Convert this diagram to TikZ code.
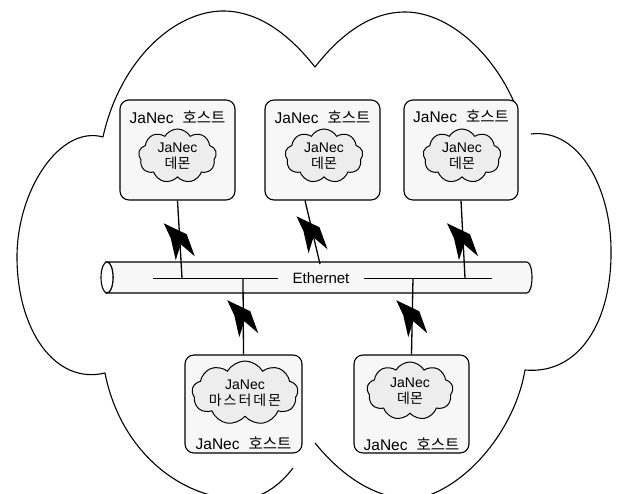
\documentclass[tikz,border=0pt]{standalone}
\usepackage{fontspec}
\setmainfont{Liberation Sans}
\newfontfamily\kr{Noto Sans CJK KR}
\usetikzlibrary{shapes.symbols}

\begin{document}
\begin{tikzpicture}[
  x=1pt, y=-1pt,
  host/.style={draw, line width=1.1pt, rounded corners=9pt, fill=gray!6,
               minimum width=115pt, minimum height=100pt, inner sep=0pt},
  daemon/.style={cloud, cloud puffs=9, cloud puff arc=120,
                 cloud ignores aspect, draw, line width=1pt, fill=gray!14,
                 align=center, inner sep=0pt, minimum width=#1,
                 minimum height=54pt, font=\fontsize{14}{15.5}\selectfont},
  daemon/.default=78pt,
  hosttitle/.style={font=\fontsize{15.5}{16}\selectfont, inner sep=1pt},
  cloudline/.style={line width=1.1pt, line join=round},
  link/.style={line width=1.3pt},
  bolt/.pic={\fill (-16,-16) -- (7,-5) -- (15,17) -- (1,5)
             -- (-4,21) -- (-9,-1) -- cycle;}
]
\useasboundingbox (0,0) rectangle (618,494);

% Outer cloud
\begin{scope}
\clip (0,0) rectangle (618,494);
\draw[cloudline] (103,137) .. controls (120,60) and (175,10) .. (225,11)
  .. controls (262,12) and (292,38) .. (315,67)
  .. controls (340,35) and (370,12) .. (405,12)
  .. controls (448,12) and (492,52) .. (514,102);
\draw[cloudline] (103,137) .. controls (60,125) and (17,190) .. (17,257)
  .. controls (17,330) and (55,385) .. (105,373)
  .. controls (120,450) and (180,499) .. (240,499)
  .. controls (262,499) and (280,485) .. (293,468);
\draw[cloudline] (531,134) .. controls (580,128) and (611,190) .. (611,250)
  .. controls (612,320) and (580,375) .. (525,370)
  .. controls (515,430) and (465,490) .. (415,499)
  .. controls (380,500) and (345,480) .. (315,443);
\end{scope}

% Ethernet pipe
\filldraw[fill=gray!6, line width=1.1pt] (107,262) -- (527,262)
  arc[start angle=-90, end angle=90, x radius=5, y radius=15.5]
  -- (107,293)
  arc[start angle=90, end angle=-90, x radius=6, y radius=15.5] -- cycle;
\filldraw[fill=white, line width=1.1pt] (107,277.5)
  ellipse[x radius=6, y radius=15.5];
\node[font=\fontsize{15}{16}\selectfont, inner xsep=14pt, inner ysep=1pt]
  (eth) at (321,278) {Ethernet};
\coordinate (ethL) at (153,278);
\coordinate (ethR) at (492,278);
\draw[line width=1pt] (ethL) -- (eth.west) (eth.east) -- (ethR);

% Taps on the bus
\coordinate (tap1) at (182,278);
\coordinate (tap2) at (320,264);
\coordinate (tap3) at (465,278);
\coordinate (tap4) at (243,278);
\coordinate (tap5) at (413,278);

% Hosts
\node[host] (h1) at (177.5,150) {};
\node[host] (h2) at (322.5,150) {};
\node[host, minimum width=114pt] (h3) at (461,150) {};
\node[host, minimum width=117pt, minimum height=98pt] (h4) at (243.5,404) {};
\node[host, minimum height=98pt] (h5) at (411.5,404) {};

\node[hosttitle] (t1) at (177.5,117) {JaNec\hspace{9pt}{\kr 호스트}};
\node[hosttitle] (t2) at (322.5,117) {JaNec\hspace{9pt}{\kr 호스트}};
\node[hosttitle] (t3) at (461,116) {JaNec\hspace{9pt}{\kr 호스트}};
\node[hosttitle] (t4) at (243.5,443) {JaNec\hspace{9pt}{\kr 호스트}};
\node[hosttitle] (t5) at (411.5,444) {JaNec\hspace{9pt}{\kr 호스트}};

% Daemons
\node[daemon] (d1) at (177.5,156) {JaNec\\{\kr 데몬}};
\node[daemon] (d2) at (324,156) {JaNec\\{\kr 데몬}};
\node[daemon] (d3) at (462,156) {JaNec\\{\kr 데몬}};
\node[daemon=106pt, minimum height=64pt] (d4) at (245,393)
  {JaNec\\{\kr\addfontfeatures{LetterSpace=14}마스터데몬}};
\node[daemon=86pt, minimum height=58pt] (d5) at (410,391) {JaNec\\{\kr 데몬}};

% Links
\draw[link] (h1.south) -- (tap1) pic[pos=0.5] {bolt};
\draw[link] ([xshift=-17.5pt]h2.south) -- (tap2) pic[pos=0.5] {bolt};
\draw[link] (h3.south) -- (tap3) pic[pos=0.5] {bolt};
\draw[link] (tap4) -- (h4.north) pic[pos=0.5] {bolt};
\draw[link] (tap5) -- (h5.north) pic[pos=0.5] {bolt};
\end{tikzpicture}
\end{document}
